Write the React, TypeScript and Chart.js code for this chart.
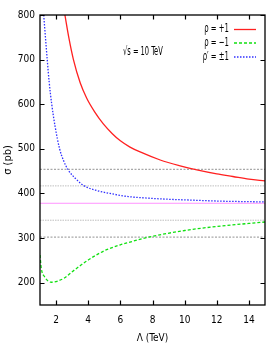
import { useEffect, useRef } from 'react';
import { Chart, registerables } from 'chart.js';

Chart.register(...registerables);

const FONT = '"DejaVu Sans Condensed", "Liberation Sans", sans-serif';

// rho = +1 (red)
const lambdaPlus = [2.55, 2.8, 3.08, 3.5, 3.9, 4.4, 4.94, 5.5, 6, 6.6, 7.23, 8.48, 9.72, 10.76, 12, 13, 14, 15];
const sigmaPlus = [800, 748, 700, 648, 614, 583, 556, 534, 518, 504, 493, 475, 462, 453, 444, 438, 432, 428];

// rho = -1 (green)
const lambdaMinus = [1, 1.08, 1.29, 1.5, 1.7, 2.12, 2.54, 2.95, 3.57, 4, 4.6, 5.15, 6, 6.6, 7.5, 8, 10, 12, 15];
const sigmaMinus = [262, 232, 213, 204, 201, 204, 211, 223, 240, 251, 264, 274, 285, 291, 300, 304, 317, 326, 336];

// rho' = ±1 (blue)
const lambdaPrime = [1.23, 1.45, 1.57, 1.73, 1.94, 2.22, 2.45, 2.75, 3.25, 3.75, 4.6, 5.5, 6.5, 7.5, 9, 10.5, 12, 15];
const sigmaPrime = [800, 700, 650, 600, 550, 500, 475, 453, 432, 417, 406, 399, 393, 390, 387, 385, 383, 381];

// horizontal reference levels
const refLevels = [454, 417, 378, 340, 302];
const refKinds = ['coarse', 'fine', 'magenta', 'fine', 'coarse'];

const xTicks = [2, 4, 6, 8, 10, 12, 14];
const yTicks = [200, 300, 400, 500, 600, 700, 800];
const xRange = [1, 15];
const yRange = [150, 800];

const seriesLabels = ['ρ = +1', 'ρ = −1', 'ρ′ = ±1'];
const annotation = '√s = 10 TeV';

const toPts = (xs: number[], ys: number[]) => xs.map((x, i) => ({ x, y: ys[i] }));

function narrowText(ctx: any, text: string, x: number, y: number, align: 'left' | 'right', sx: number) {
  ctx.save();
  ctx.translate(x, y);
  ctx.scale(sx, 1);
  ctx.textAlign = align;
  ctx.textBaseline = 'middle';
  ctx.fillText(text, 0, 0);
  ctx.restore();
}

const framePlugin = {
  id: 'frameTicks',
  afterDatasetsDraw(chart: any) {
    const { ctx, chartArea: a, scales } = chart;
    const xs = scales.x;
    const ys = scales.y;
    ctx.save();
    ctx.strokeStyle = '#000';
    ctx.lineWidth = 1.2;
    const tl = 4.5;
    ctx.beginPath();
    xs.ticks.forEach((t: any) => {
      const px = Math.round(xs.getPixelForValue(t.value)) + 0.5;
      ctx.moveTo(px, a.bottom);
      ctx.lineTo(px, a.bottom - tl);
      ctx.moveTo(px, a.top);
      ctx.lineTo(px, a.top + tl);
    });
    ys.ticks.forEach((t: any) => {
      const py = Math.round(ys.getPixelForValue(t.value)) + 0.5;
      ctx.moveTo(a.left, py);
      ctx.lineTo(a.left + tl, py);
      ctx.moveTo(a.right, py);
      ctx.lineTo(a.right - tl, py);
    });
    ctx.stroke();
    ctx.lineWidth = 1.3;
    ctx.strokeRect(a.left, a.top, a.right - a.left, a.bottom - a.top);

    ctx.fillStyle = '#000';
    ctx.font = `12px ${FONT}`;
    narrowText(ctx, annotation, 123, 52, 'left', 0.62);

    const rowsY = [29, 42.5, 56.5];
    chart.data.datasets.slice(0, 3).forEach((ds: any, i: number) => {
      const y = rowsY[i];
      ctx.fillStyle = '#000';
      ctx.font = `12px ${FONT}`;
      narrowText(ctx, ds.label, 229, y, 'right', 0.64);
      ctx.strokeStyle = ds.borderColor;
      ctx.lineWidth = ds.borderWidth;
      ctx.setLineDash(ds.borderDash || []);
      ctx.beginPath();
      ctx.moveTo(234, y + 0.5);
      ctx.lineTo(256, y + 0.5);
      ctx.stroke();
    });
    ctx.restore();
  },
};

export default function App() {
  const ref = useRef<HTMLCanvasElement | null>(null);
  useEffect(() => {
    document.body.style.margin = '0';
    if (!ref.current) return;
    const refDatasets = refLevels.map((lv, i) => {
      const kind = refKinds[i];
      return {
        label: 'ref' + i,
        data: [{ x: xRange[0], y: lv }, { x: xRange[1], y: lv }],
        borderColor: kind === 'magenta' ? '#ff88ff' : kind === 'coarse' ? '#a8a8a8' : '#b8b8b8',
        borderWidth: kind === 'coarse' ? 1.2 : 0.9,
        borderDash: kind === 'magenta' ? [] : kind === 'coarse' ? [2, 1.5] : [1.5, 1],
        pointRadius: 0,
        showLine: true,
      };
    });
    const chart = new Chart(ref.current, {
      type: 'scatter',
      data: {
        datasets: [
          { label: seriesLabels[0], data: toPts(lambdaPlus, sigmaPlus), borderColor: '#ff2020', borderWidth: 1.3, borderDash: [], pointRadius: 0, showLine: true, cubicInterpolationMode: 'monotone' },
          { label: seriesLabels[1], data: toPts(lambdaMinus, sigmaMinus), borderColor: '#10e010', borderWidth: 1.3, borderDash: [3, 2], pointRadius: 0, showLine: true, cubicInterpolationMode: 'monotone' },
          { label: seriesLabels[2], data: toPts(lambdaPrime, sigmaPrime), borderColor: '#3030ff', borderWidth: 1.3, borderDash: [1.5, 1.5], pointRadius: 0, showLine: true, cubicInterpolationMode: 'monotone' },
          ...refDatasets,
        ] as any,
      },
      options: {
        animation: false,
        responsive: false,
        layout: { padding: { left: 0, top: 15, right: 12, bottom: 0 } },
        plugins: { legend: { display: false }, tooltip: { enabled: false } },
        scales: {
          x: {
            type: 'linear', min: xRange[0], max: xRange[1],
            afterBuildTicks: (s: any) => { s.ticks = xTicks.map((v) => ({ value: v })); },
            afterFit: (s: any) => { s.height = 41; },
            grid: { display: false, drawTicks: false },
            border: { display: false },
            ticks: { color: '#000', padding: 9, font: { family: FONT, size: 10 }, maxRotation: 0 },
            title: { display: true, text: 'Λ (TeV)', color: '#000', font: { family: FONT, size: 10 }, padding: { top: 0, bottom: 2 } },
          },
          y: {
            type: 'linear', min: yRange[0], max: yRange[1],
            afterBuildTicks: (s: any) => { s.ticks = yTicks.map((v) => ({ value: v })); },
            afterFit: (s: any) => { s.width = 40; },
            grid: { display: false, drawTicks: false },
            border: { display: false },
            ticks: { color: '#000', padding: 5, font: { family: FONT, size: 10 } },
            title: { display: true, text: 'σ (pb)', color: '#000', font: { family: FONT, size: 11 }, padding: { top: 2, bottom: 0 } },
          },
        },
      } as any,
      plugins: [framePlugin],
    });
    return () => chart.destroy();
  }, []);
  return (
    <div style={{ width: 277, height: 346 }}>
      <canvas ref={ref} width={277} height={346} style={{ display: 'block' }} />
    </div>
  );
}
